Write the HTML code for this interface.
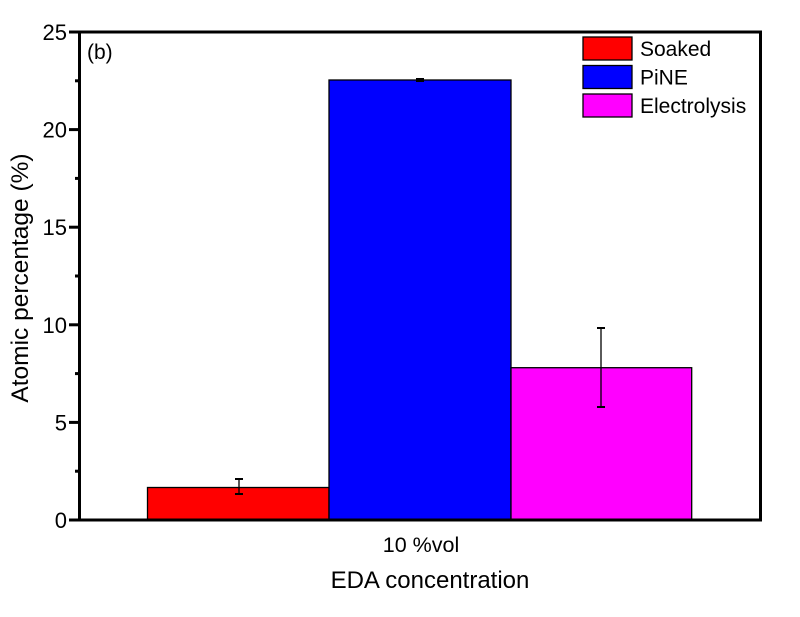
<!DOCTYPE html>
<html><head><style>body{margin:0;background:#fff}</style></head><body>
<svg width="800" height="612" xmlns="http://www.w3.org/2000/svg" font-family="Liberation Sans, Arial, sans-serif">
<rect width="800" height="612" fill="#fff"/>
<rect x="147.5" y="487.5" width="181.5" height="33" fill="#ff0000" stroke="#000" stroke-width="1.3"/>
<rect x="329" y="80" width="182" height="440" fill="#0000ff" stroke="#000" stroke-width="1.3"/>
<rect x="511" y="367.7" width="180.7" height="153" fill="#ff00ff" stroke="#000" stroke-width="1.3"/>
<g stroke="#000" stroke-width="1.3">
<line x1="239" y1="479" x2="239" y2="494"/><line x1="235" y1="479" x2="243" y2="479" stroke-width="2"/><line x1="235" y1="494" x2="243" y2="494" stroke-width="2"/>
<line x1="420" y1="79" x2="420" y2="81"/><line x1="416" y1="79" x2="424" y2="79" stroke-width="2"/><line x1="416" y1="81" x2="424" y2="81" stroke-width="2"/>
<line x1="601" y1="328" x2="601" y2="407"/><line x1="597" y1="328" x2="605" y2="328" stroke-width="2"/><line x1="597" y1="407" x2="605" y2="407" stroke-width="2"/>
</g>
<rect x="79.5" y="32" width="681" height="488" fill="none" stroke="#000" stroke-width="3"/>
<g stroke="#000" stroke-width="3">
<line x1="69" y1="520" x2="80" y2="520"/><line x1="69" y1="422.4" x2="80" y2="422.4"/><line x1="69" y1="324.8" x2="80" y2="324.8"/><line x1="69" y1="227.2" x2="80" y2="227.2"/><line x1="69" y1="129.6" x2="80" y2="129.6"/><line x1="69" y1="32" x2="80" y2="32"/>
<line x1="75" y1="471.2" x2="80" y2="471.2"/><line x1="75" y1="373.6" x2="80" y2="373.6"/><line x1="75" y1="276" x2="80" y2="276"/><line x1="75" y1="178.4" x2="80" y2="178.4"/><line x1="75" y1="80.8" x2="80" y2="80.8"/>
</g>
<g font-size="22" text-anchor="end" fill="#000">
<text x="67" y="528">0</text><text x="67" y="430.4">5</text><text x="67" y="332.8">10</text><text x="67" y="235.2">15</text><text x="67" y="137.6">20</text><text x="67" y="40">25</text>
</g>
<text x="421" y="552" font-size="21.5" text-anchor="middle">10 %vol</text>
<text x="430" y="588" font-size="24" text-anchor="middle">EDA concentration</text>
<text transform="translate(28,278) rotate(-90)" font-size="24.5" text-anchor="middle">Atomic percentage (%)</text>
<text x="87" y="59" font-size="21">(b)</text>
<rect x="583" y="37" width="49" height="23" fill="#ff0000" stroke="#000" stroke-width="1.3"/>
<rect x="583" y="65.5" width="49" height="23" fill="#0000ff" stroke="#000" stroke-width="1.3"/>
<rect x="583" y="94" width="49" height="23" fill="#ff00ff" stroke="#000" stroke-width="1.3"/>
<g font-size="21" fill="#000">
<text x="640" y="56">Soaked</text><text x="640" y="84.5">PiNE</text><text x="640" y="113">Electrolysis</text>
</g>
</svg>
</body></html>
